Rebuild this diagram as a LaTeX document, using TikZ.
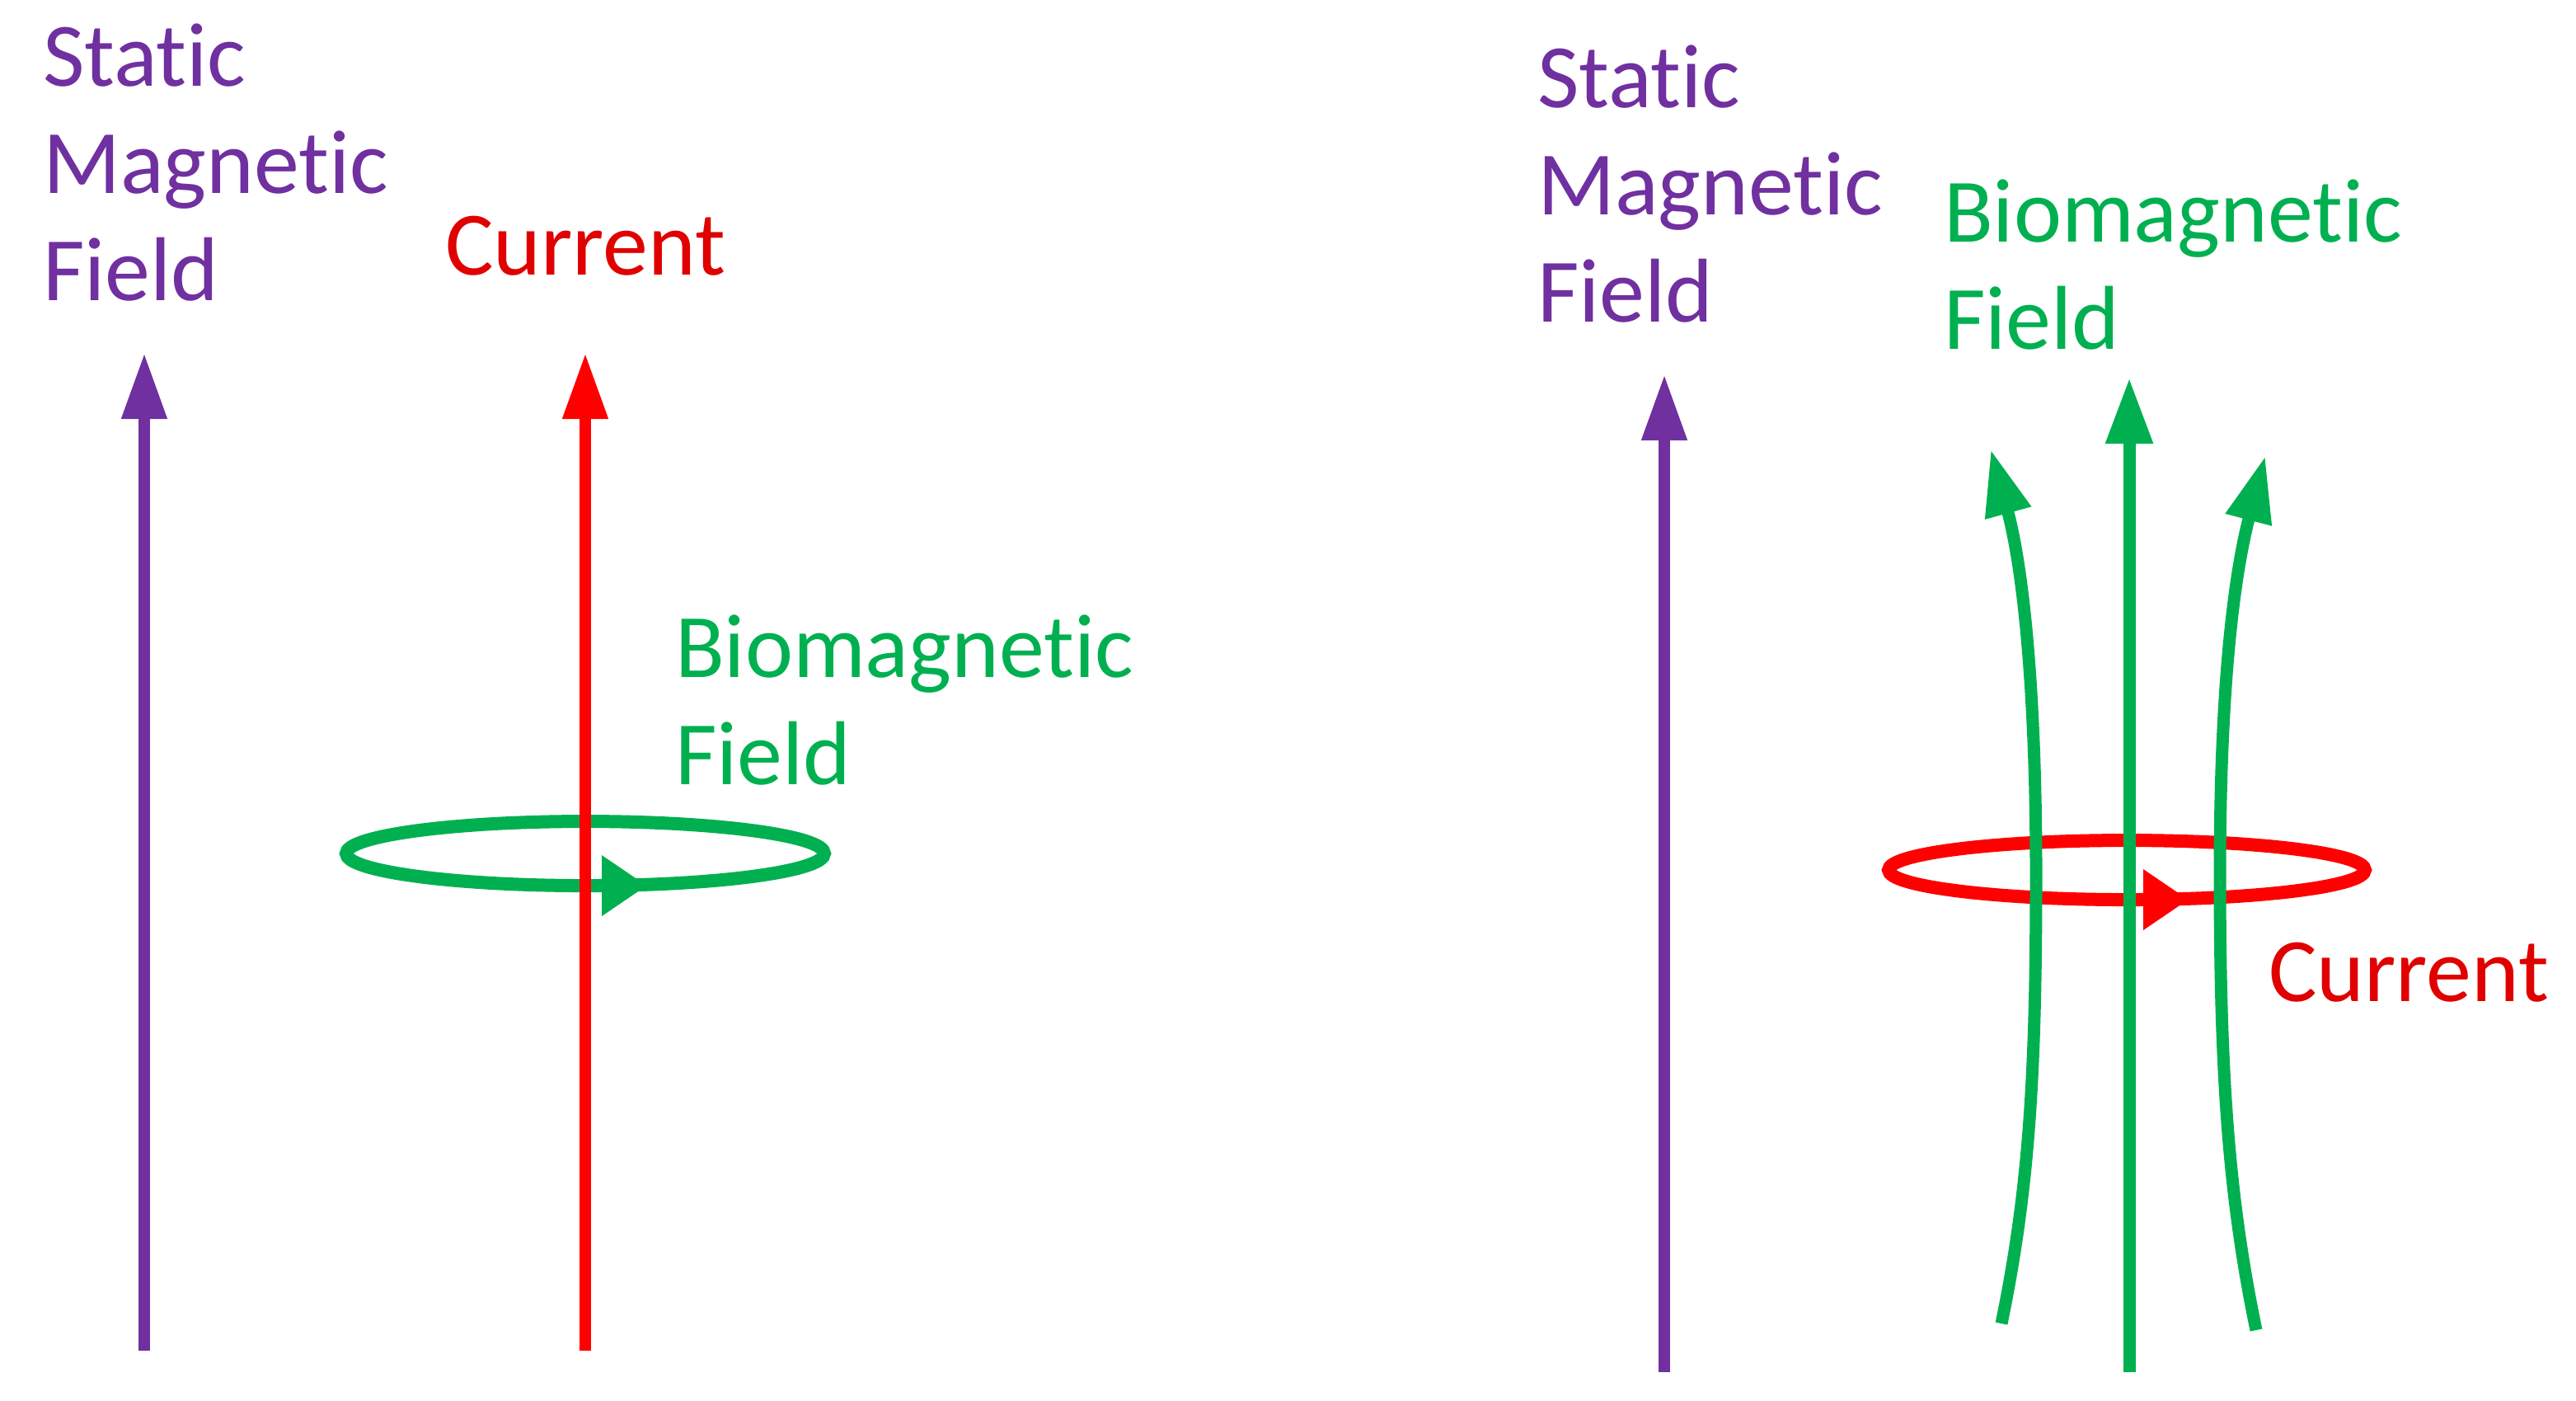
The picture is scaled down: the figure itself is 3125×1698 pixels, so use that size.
\documentclass[tikz,border=0pt]{standalone}
\usepackage{fontspec}
\setmainfont{Carlito}[Ligatures={NoCommon}]
\usetikzlibrary{arrows.meta}
\definecolor{mpurple}{HTML}{7030A0}
\definecolor{mgreen}{HTML}{00B050}
\definecolor{mred}{HTML}{FF0000}
\definecolor{mredtext}{HTML}{E00000}
\begin{document}
\begin{tikzpicture}[x=0.1pt,y=-0.1pt,
  lbl/.style={inner sep=0pt, anchor=base west, align=left, font=\fontsize{11}{13}\selectfont},
  fieldline/.style={line width=1.4pt, -{Triangle[length=8pt,width=5.2pt]}},
  greenline/.style={line width=1.5pt, -{Triangle[length=8pt,width=5.4pt]}},
  loopline/.style={line width=1.6pt},
  looptip/.style={line width=1.6pt, -{Triangle[length=5.5pt,width=7pt]}}]
\useasboundingbox[fill=white] (0,0) rectangle (3125,1698);
% ---------- left panel ----------
\coordinate (sL0) at (175,1638); \coordinate (sL1) at (175,428);
\coordinate (cL0) at (710,1638); \coordinate (cL1) at (710,428);
\coordinate (eL) at (710,1035);
\coordinate (aL0) at (725,1074); \coordinate (aL1) at (785,1074);
\draw[loopline, mgreen] (eL) ellipse [x radius=290, y radius=39];
\draw[looptip, mgreen] (aL0) -- (aL1);
\draw[fieldline, mpurple] (sL0) -- (sL1);
\draw[fieldline, mred] (cL0) -- (cL1);
\node[lbl, text=mpurple] (smfL) at (50,364) {Static\\Magnetic\\Field};
\node[lbl, text=mredtext] (curL) at (538,333) {Current};
\node[lbl, text=mgreen] (bioL) at (817,951) {Biomagnetic\\Field};
% ---------- right panel ----------
\coordinate (sR0) at (2019,1664); \coordinate (sR1) at (2019,454);
\coordinate (eR) at (2580,1055);
\coordinate (aR0) at (2595,1091); \coordinate (aR1) at (2655,1091);
\coordinate (gC0) at (2583,1664); \coordinate (gC1) at (2583,458);
\coordinate (gL0) at (2428,1605); \coordinate (gLm) at (2470,1060); \coordinate (gL1) at (2415,545);
\coordinate (gR0) at (2737,1613); \coordinate (gRm) at (2693,1060); \coordinate (gR1) at (2748,553);
\draw[loopline, mred] (eR) ellipse [x radius=289, y radius=36];
\draw[looptip, mred] (aR0) -- (aR1);
\draw[fieldline, mpurple] (sR0) -- (sR1);
\draw[greenline, mgreen] (gC0) -- (gC1);
\draw[greenline, mgreen] (gL0) .. controls (2462,1440) and (2470,1300) .. (gLm)
   .. controls (2470,820) and (2452,680) .. (gL1);
\draw[greenline, mgreen] (gR0) .. controls (2703,1450) and (2693,1300) .. (gRm)
   .. controls (2693,820) and (2712,690) .. (gR1);
\node[lbl, text=mpurple] (smfR) at (1863,390) {Static\\Magnetic\\Field};
\node[lbl, text=mgreen] (bioR) at (2356,423) {Biomagnetic\\Field};
\node[lbl, text=mredtext] (curR) at (2750,1214) {Current};
\end{tikzpicture}
\end{document}
